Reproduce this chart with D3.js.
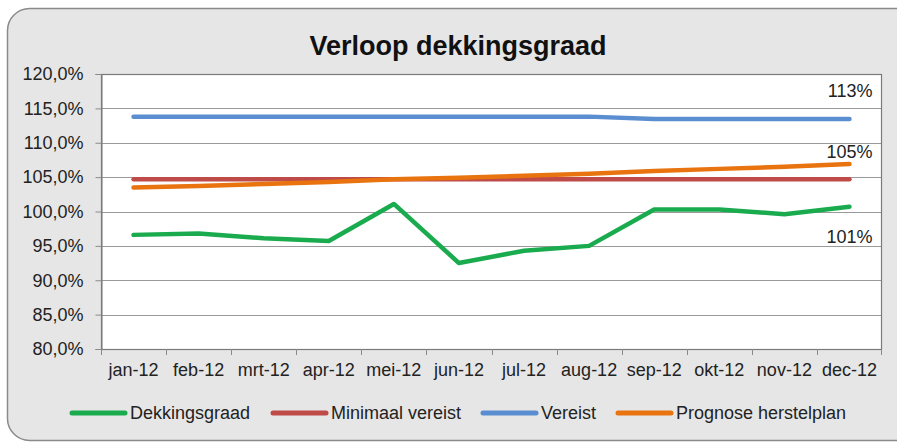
<!DOCTYPE html>
<html>
<head>
<meta charset="utf-8">
<script src="https://cdn.jsdelivr.net/npm/d3@7"></script>
<style>
  body { margin: 0; background: #fff; }
  svg { display: block; font-family: "Liberation Sans", Arial, sans-serif; }
</style>
</head>
<body>
<div id="chart"></div>
<script>
const months = ['jan-12', 'feb-12', 'mrt-12', 'apr-12', 'mei-12', 'jun-12',
                'jul-12', 'aug-12', 'sep-12', 'okt-12', 'nov-12', 'dec-12'];
const dekkingsgraad = [96.6, 96.8, 96.1, 95.7, 101.1, 92.5, 94.3, 95.0, 100.3, 100.3, 99.6, 100.7];
const minimaalVereist = [104.7, 104.7, 104.7, 104.7, 104.7, 104.7, 104.7, 104.7, 104.7, 104.7, 104.7, 104.7];
const vereist = [113.8, 113.8, 113.8, 113.8, 113.8, 113.8, 113.8, 113.8, 113.45, 113.45, 113.45, 113.45];
const prognose = [103.5, 103.7, 104.0, 104.3, 104.7, 104.9, 105.2, 105.5, 105.9, 106.2, 106.5, 106.9];
const yTicks = [80, 85, 90, 95, 100, 105, 110, 115, 120];
const endLabels = [
  { text: '113%', y: 116.65 },
  { text: '105%', y: 107.8 },
  { text: '101%', y: 95.4 }
];

const series = [
  { name: 'Dekkingsgraad', values: dekkingsgraad, color: '#1aab4f' },
  { name: 'Minimaal vereist', values: minimaalVereist, color: '#be4b48' },
  { name: 'Vereist', values: vereist, color: '#5a8ed0' },
  { name: 'Prognose herstelplan', values: prognose, color: '#e8730f' }
];
// draw order: blue, red, orange, green on top
const drawOrder = [2, 1, 3, 0];

const width = 897;
const height = 444;
const margin = { top: 74, right: 15, bottom: 95, left: 101 };

const svg = d3.select('#chart')
              .append('svg')
              .attr('width', width)
              .attr('height', height);

// outer chart area
svg.append('rect')
   .attr('x', 7.5)
   .attr('y', 8.5)
   .attr('width', 910)
   .attr('height', 432)
   .attr('rx', 22)
   .attr('fill', '#e6e6e6')
   .attr('stroke', '#8a8a8a')
   .attr('stroke-width', 1.5);

const x = d3.scaleBand()
            .domain(months)
            .range([margin.left, width - margin.right]);

const y = d3.scaleLinear()
            .domain([80, 120])
            .range([height - margin.bottom, margin.top]);

svg.append('rect')
   .attr('x', margin.left)
   .attr('y', margin.top)
   .attr('width', width - margin.right - margin.left)
   .attr('height', height - margin.bottom - margin.top)
   .attr('fill', '#fff');

// gridlines
svg.append('g')
   .selectAll('line')
   .data(yTicks)
   .enter()
   .append('line')
   .attr('x1', margin.left)
   .attr('x2', width - margin.right)
   .attr('y1', (d) => Math.round(y(d)) + 0.5)
   .attr('y2', (d) => Math.round(y(d)) + 0.5)
   .attr('stroke', '#9a9a9a')
   .attr('stroke-width', 1.2);

// plot border
svg.append('rect')
   .attr('x', margin.left + 0.5)
   .attr('y', Math.round(y(120)) + 0.5)
   .attr('width', width - margin.right - margin.left - 1)
   .attr('height', Math.round(y(80)) - Math.round(y(120)))
   .attr('fill', 'none')
   .attr('stroke', '#7a7a7a')
   .attr('stroke-width', 1.2);

const yAxis = svg.append('g')
   .attr('transform', 'translate(' + (margin.left + 0.5) + ',0)')
   .call(d3.axisLeft(y)
           .tickValues(yTicks)
           .tickSize(6)
           .tickPadding(12)
           .tickFormat((d) => d.toFixed(1).replace('.', ',') + '%'));

const xAxis = svg.append('g')
   .attr('transform', 'translate(0,' + (Math.round(y(80)) + 0.5) + ')')
   .call(d3.axisBottom(x).tickSize(0).tickPadding(14));

// x tick marks between categories
svg.append('g')
   .selectAll('line')
   .data(months)
   .enter()
   .append('line')
   .attr('x1', (d) => Math.round(x(d)) + 0.5)
   .attr('x2', (d) => Math.round(x(d)) + 0.5)
   .attr('y1', Math.round(y(80)))
   .attr('y2', Math.round(y(80)) + 6)
   .attr('stroke', '#8a8a8a');
svg.append('line')
   .attr('x1', width - margin.right - 0.5)
   .attr('x2', width - margin.right - 0.5)
   .attr('y1', Math.round(y(80)))
   .attr('y2', Math.round(y(80)) + 6)
   .attr('stroke', '#8a8a8a');

[yAxis, xAxis].forEach((g) => {
  g.select('.domain').attr('stroke', '#7a7a7a');
  g.selectAll('.tick line').attr('stroke', '#8a8a8a');
  g.selectAll('.tick text')
   .style('font-size', '18px')
   .attr('fill', '#222');
});
xAxis.select('.domain').remove();

const line = d3.line()
               .x((d, i) => x(months[i]) + x.bandwidth() / 2)
               .y((d) => y(d));

drawOrder.forEach((k) => {
  const s = series[k];
  svg.append('path')
     .datum(s.values)
     .attr('d', line)
     .attr('fill', 'none')
     .attr('stroke', s.color)
     .attr('stroke-width', 4.5)
     .attr('stroke-linejoin', 'round')
     .attr('stroke-linecap', 'round');
});

// end-of-line labels
svg.append('g')
   .selectAll('text')
   .data(endLabels)
   .enter()
   .append('text')
   .attr('x', x('dec-12') + x.bandwidth() / 2 + 23)
   .attr('y', (d) => y(d.y))
   .attr('text-anchor', 'end')
   .style('font-size', '18px')
   .attr('fill', '#222')
   .text((d) => d.text);

// title
svg.append('text')
   .attr('x', 458)
   .attr('y', 55)
   .attr('text-anchor', 'middle')
   .style('font-size', '27px')
   .style('font-weight', 'bold')
   .attr('fill', '#111')
   .text('Verloop dekkingsgraad');

// legend
const legendX = [72, 273, 483, 618];
const legend = svg.append('g')
   .selectAll('g')
   .data(series)
   .enter()
   .append('g')
   .attr('transform', (d, i) => 'translate(' + legendX[i] + ',413)');

legend.append('line')
   .attr('x1', 0)
   .attr('x2', 53)
   .attr('stroke', (d) => d.color)
   .attr('stroke-width', 5)
   .attr('stroke-linecap', 'round');

legend.append('text')
   .attr('x', 58)
   .attr('y', 6)
   .style('font-size', '18px')
   .attr('fill', '#222')
   .text((d) => d.name);
</script>
</body>
</html>
